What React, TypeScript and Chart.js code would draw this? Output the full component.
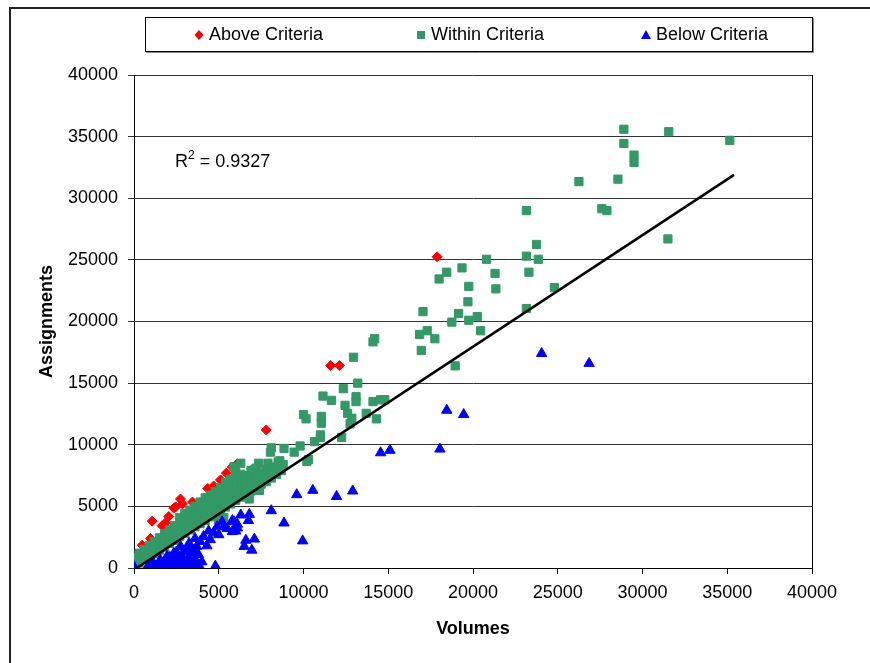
import { useEffect, useRef } from 'react';
import { Chart, registerables } from 'chart.js';

Chart.register(...registerables);

// ---- Data ----
const xTickValues = [0, 5000, 10000, 15000, 20000, 25000, 30000, 35000, 40000];
const yTickValues = [0, 5000, 10000, 15000, 20000, 25000, 30000, 35000, 40000];
const seriesNames = ['Above Criteria', 'Within Criteria', 'Below Criteria'];
const rSquaredText = '0.9327';

// [Volumes, Assignments]
const aboveCriteria: [number, number][] = [
  [280, 950], [480, 1850], [970, 2400], [1070, 3800], [1660, 3430], [1850, 3650],
  [2050, 4180], [2350, 4860], [2450, 4950], [2740, 5600], [2860, 5200], [3450, 5350],
  [4350, 6450], [4700, 6650], [5100, 7150], [5450, 7700], [5800, 8200], [6080, 8450],
  [7800, 11200], [11600, 16420], [12120, 16420], [17880, 25250],
];

const withinUpper: [number, number][] = [
  [35150, 34700], [31550, 35400], [28900, 35600], [28900, 34450], [29500, 33500], [29500, 32900],
  [26250, 31350], [28550, 31550], [27600, 29150], [27900, 29000], [23150, 29000], [31500, 26700],
  [23750, 26250], [23150, 25300], [23850, 25050], [20800, 25050], [18450, 24000], [19350, 24350],
  [18000, 23450], [21300, 23900], [23300, 24000], [19750, 22850], [21350, 22650], [24800, 22750],
  [19700, 21600], [17050, 20800], [19150, 20650], [20250, 20400], [18750, 19950], [19750, 20100],
  [23150, 21050], [16850, 18950], [17300, 19250], [17750, 18600], [20450, 19250], [16950, 17650],
  [18950, 16400],
];

const withinMiddle: [number, number][] = [
  [12950, 17100], [14100, 18350], [14200, 18600], [13200, 15000], [12350, 14550], [11150, 13950],
  [11650, 13600], [12450, 13200], [13100, 13900], [13100, 13500], [14100, 13500], [14550, 13650],
  [14800, 13650], [13700, 12550], [12600, 12550], [12850, 12150], [12750, 11700], [14300, 12100],
  [10000, 12450], [10150, 12100], [11050, 12300], [11050, 11750], [11000, 10800], [11000, 10600],
  [12250, 10600], [10650, 10250], [9800, 9900], [9450, 9400], [8850, 9700], [8600, 8700],
  [8050, 9400], [8100, 9750], [7900, 8500], [10300, 8800], [10200, 8650], [7350, 8500],
  [7050, 7950], [6300, 8500], [5900, 8200],
];

const withinBand: [number, number][] = [
  [0, 150], [0, 500], [0, 850],
  [300, 400], [300, 800], [300, 1200],
  [600, 700], [600, 1100], [600, 1500],
  [900, 900], [900, 1350], [900, 1800],
  [1200, 1150], [1200, 1650], [1200, 2150],
  [1500, 1450], [1500, 1950], [1500, 2450],
  [1800, 1700], [1800, 2250], [1800, 2800],
  [2100, 2000], [2100, 2550], [2100, 3100],
  [2400, 2250], [2400, 2850], [2400, 3450],
  [2700, 2550], [2700, 3100], [2700, 3700], [2700, 4100],
  [3000, 2800], [3000, 3400], [3000, 4000], [3000, 4400],
  [3300, 3100], [3300, 3700], [3300, 4300], [3300, 4700],
  [3600, 3350], [3600, 3950], [3600, 4600], [3600, 5000],
  [3900, 3600], [3900, 4200], [3900, 4800], [3900, 5350],
  [4200, 3850], [4200, 4450], [4200, 5100], [4200, 5700],
  [4500, 4150], [4500, 4750], [4500, 5350], [4500, 5900],
  [4800, 4400], [4800, 5000], [4800, 5600], [4800, 6200],
  [5100, 4650], [5100, 5300], [5100, 5900], [5100, 6500],
  [5400, 4950], [5400, 5600], [5400, 6200], [5400, 6900],
  [5700, 5200], [5700, 5850], [5700, 6500], [5700, 7200],
  [6000, 5500], [6000, 6100], [6000, 6700], [6000, 7400], [6000, 7900],
  [6300, 5750], [6300, 6350], [6300, 7000], [6300, 7600],
  [6600, 6000], [6600, 6500], [6600, 7100], [6600, 7500],
  [6900, 6250], [6900, 6700], [6900, 7300], [6900, 7900],
  [7200, 6500], [7200, 6900], [7200, 7500], [7200, 8100],
  [7500, 6800], [7500, 7200], [7500, 7700],
  [7800, 7000], [7800, 7400], [7800, 8000],
  [8100, 7300], [8100, 7700], [8200, 8200],
  [8400, 7600], [8400, 8100], [8500, 8600],
  [8700, 7900], [8800, 8400],
  [5300, 4100], [5000, 3900], [6800, 5600], [7400, 6300],
];

const belowSparse: [number, number][] = [
  [24050, 17400], [26850, 16600], [18450, 12800], [19450, 12450], [18050, 9650], [14550, 9350],
  [15100, 9550], [11950, 5800], [12900, 6250], [9600, 5950], [10550, 6300], [8100, 4650],
  [8850, 3650], [9950, 2200], [6300, 4300], [6800, 4350], [6750, 3850], [6100, 3550],
  [5800, 3850], [6000, 3000], [6600, 2250], [7100, 2350], [6500, 1750], [6950, 1450], [4800, 150],
];

const belowCluster: [number, number][] = [
  [5200, 3750], [5300, 3350], [5900, 3750], [6100, 3250], [5800, 2950], [4900, 3350],
  [4700, 2850], [4100, 2550], [3900, 2150], [3700, 1750], [3250, 2000], [3150, 1500],
  [2750, 1750], [2350, 1200], [1950, 950], [1550, 650], [1150, 400], [0, 100],
  [800, 100], [1000, 300], [1200, 100], [1400, 250], [1500, 50], [1700, 350],
  [1800, 100], [1900, 500], [2000, 200], [2100, 50], [2200, 600], [2300, 300],
  [2400, 100], [2500, 800], [2600, 450], [2700, 150], [2800, 1000], [2900, 600],
  [3000, 250], [3100, 50], [3200, 850], [3300, 400], [3400, 1200], [3500, 150],
  [3600, 700], [3700, 350], [3800, 1100], [3900, 50], [4000, 500], [3450, 1500],
  [2950, 1350], [2500, 1300], [2100, 900], [4300, 1800], [4500, 2300], [4400, 3000],
  [5000, 2700], [5500, 3200], [3600, 2400],
];

const trendVolumes = [0, 35400];
const trendAssignments = [-150, 31900];

// ---- Styles ----
const FONT = '"Liberation Sans", Arial, sans-serif';
const RED = '#FF0000';
const GREEN = '#339966';
const BLUE = '#0000FF';

const toPoints = (arr: [number, number][]) => arr.map(([x, y]) => ({ x, y }));

function drawMarker(ctx: CanvasRenderingContext2D, kind: string, x: number, y: number, color: string) {
  ctx.save();
  ctx.fillStyle = color;
  ctx.beginPath();
  if (kind === 'rectRot') {
    ctx.moveTo(x, y - 5);
    ctx.lineTo(x + 4.5, y);
    ctx.lineTo(x, y + 5);
    ctx.lineTo(x - 4.5, y);
  } else if (kind === 'rect') {
    ctx.rect(x - 4, y - 4, 8, 8);
  } else {
    ctx.moveTo(x, y - 5);
    ctx.lineTo(x + 5, y + 4);
    ctx.lineTo(x - 5, y + 4);
  }
  ctx.closePath();
  ctx.fill();
  ctx.restore();
}

const decorPlugin = {
  id: 'decor',
  afterDraw(chart: any) {
    const ctx: CanvasRenderingContext2D = chart.ctx;
    const area = chart.chartArea;
    ctx.save();
    // plot area right border
    ctx.strokeStyle = '#000';
    ctx.lineWidth = 1;
    ctx.beginPath();
    ctx.moveTo(Math.round(area.right) + 0.5, area.top);
    ctx.lineTo(Math.round(area.right) + 0.5, area.bottom);
    ctx.stroke();

    // outer chart border (left and top)
    ctx.strokeStyle = '#222';
    ctx.lineWidth = 2;
    ctx.beginPath();
    ctx.moveTo(10, 663);
    ctx.lineTo(10, 8);
    ctx.lineTo(870, 8);
    ctx.stroke();

    // legend box
    const bx = 145, by = 17, bw = 667, bh = 34;
    ctx.fillStyle = '#fff';
    ctx.fillRect(bx, by, bw, bh);
    ctx.strokeStyle = '#888';
    ctx.lineWidth = 1;
    ctx.beginPath();
    ctx.moveTo(bx + 1, by + bh + 1.5);
    ctx.lineTo(bx + bw + 1.5, by + bh + 1.5);
    ctx.lineTo(bx + bw + 1.5, by + 1);
    ctx.stroke();
    ctx.strokeStyle = '#000';
    ctx.strokeRect(bx + 0.5, by + 0.5, bw, bh);

    const datasets = chart.data.datasets;
    const legendX = [199, 421, 646];
    ctx.font = '18px ' + FONT;
    ctx.fillStyle = '#000';
    ctx.textBaseline = 'middle';
    ctx.textAlign = 'left';
    for (let i = 0; i < 3; i++) {
      const ds = datasets[i];
      drawMarker(ctx, ds.pointStyle, legendX[i], by + bh / 2 + 1, ds.backgroundColor);
      ctx.fillStyle = '#000';
      ctx.fillText(ds.label, legendX[i] + 10, by + bh / 2 + 1);
    }

    // R^2 label
    ctx.textBaseline = 'alphabetic';
    ctx.font = '18px ' + FONT;
    ctx.fillText('R', 175, 167);
    const rw = ctx.measureText('R').width;
    ctx.font = '12px ' + FONT;
    ctx.fillText('2', 175 + rw, 159);
    const sw = ctx.measureText('2').width;
    ctx.font = '18px ' + FONT;
    ctx.fillText(' = ' + rSquaredText, 175 + rw + sw, 167);
    ctx.restore();
  },
};

export default function App() {
  const canvasRef = useRef<HTMLCanvasElement | null>(null);

  useEffect(() => {
    if (!canvasRef.current) return;
    const chart = new Chart(canvasRef.current, {
      type: 'scatter',
      data: {
        datasets: [
          {
            label: seriesNames[0],
            data: toPoints(aboveCriteria),
            pointStyle: 'rectRot',
            backgroundColor: RED,
            borderColor: RED,
            borderWidth: 1,
            pointRadius: 5,
            order: 3,
          },
          {
            label: seriesNames[1],
            data: toPoints([...withinUpper, ...withinMiddle, ...withinBand]),
            pointStyle: 'rect',
            backgroundColor: GREEN,
            borderColor: GREEN,
            borderWidth: 1,
            pointRadius: 5.8,
            order: 2,
          },
          {
            label: seriesNames[2],
            data: toPoints([...belowSparse, ...belowCluster]),
            pointStyle: 'triangle',
            backgroundColor: BLUE,
            borderColor: BLUE,
            borderWidth: 1,
            pointRadius: 6,
            order: 1,
          },
          {
            type: 'line',
            label: 'Linear trend',
            data: trendVolumes.map((x, i) => ({ x, y: trendAssignments[i] })),
            borderColor: '#000',
            backgroundColor: '#000',
            borderWidth: 2.5,
            pointRadius: 0,
            showLine: true,
            fill: false,
            order: 0,
          } as any,
        ],
      },
      options: {
        responsive: false,
        animation: false,
        events: [],
        layout: { padding: { top: 75, right: 58, bottom: 0, left: 0 } },
        plugins: {
          legend: { display: false },
          tooltip: { enabled: false },
          title: { display: false },
        },
        scales: {
          x: {
            type: 'linear',
            min: 0,
            max: 40000,
            afterBuildTicks: (scale: any) => {
              scale.ticks = xTickValues.map((v) => ({ value: v }));
            },
            afterFit: (scale: any) => {
              scale.height = 95;
            },
            ticks: {
              font: { family: FONT, size: 18 },
              color: '#000',
              padding: 8,
              maxRotation: 0,
              autoSkip: false,
              callback: (v: any) => String(v),
            },
            grid: {
              drawOnChartArea: false,
              drawTicks: true,
              tickLength: 6,
              color: '#000',
            },
            border: { display: true, color: '#000', width: 1 },
            title: {
              display: true,
              text: 'Volumes',
              font: { family: FONT, size: 18, weight: 'bold' },
              color: '#000',
              padding: { top: 0, bottom: 23 },
            },
          },
          y: {
            type: 'linear',
            min: 0,
            max: 40000,
            afterBuildTicks: (scale: any) => {
              scale.ticks = yTickValues.map((v) => ({ value: v }));
            },
            afterFit: (scale: any) => {
              scale.width = 134;
            },
            ticks: {
              font: { family: FONT, size: 18 },
              color: '#000',
              padding: 10,
              autoSkip: false,
              callback: (v: any) => String(v),
            },
            grid: {
              drawOnChartArea: true,
              drawTicks: true,
              tickLength: 6,
              color: '#333',
              lineWidth: 1,
            },
            border: { display: true, color: '#000', width: 1 },
            title: {
              display: true,
              text: 'Assignments',
              font: { family: FONT, size: 18, weight: 'bold' },
              color: '#000',
              padding: { top: 36, bottom: 0 },
            },
          },
        },
      },
      plugins: [decorPlugin],
    });
    return () => chart.destroy();
  }, []);

  return (
    <div style={{ position: 'absolute', left: 0, top: 0, width: 870, height: 663, background: '#fff' }}>
      <canvas ref={canvasRef} width={870} height={663} style={{ display: 'block' }} />
    </div>
  );
}
